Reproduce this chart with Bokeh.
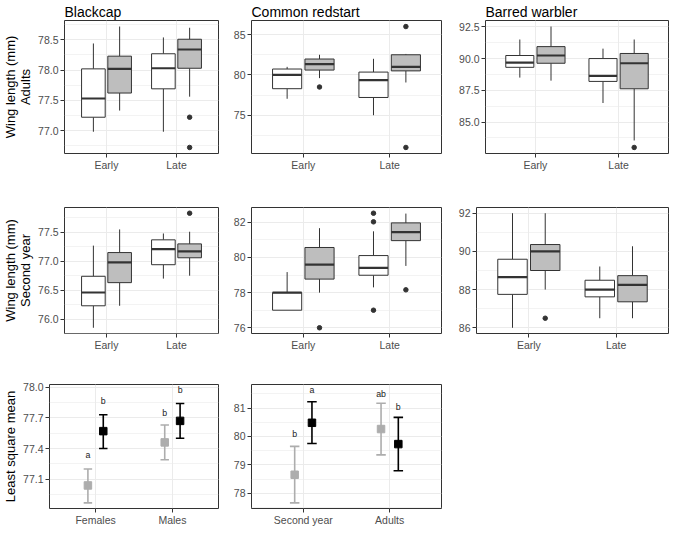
from bokeh.plotting import figure
from bokeh.models import FixedTicker, PrintfTickFormatter, Range1d, ColumnDataSource
from bokeh.layouts import column, row
from bokeh.embed import file_html
from bokeh.resources import INLINE
from bokeh.core.properties import value

FONT = "Liberation Sans"

# ---------------- data ----------------
periods = ["Early", "Late"]
# five-number summaries [lower whisker, Q1, median, Q3, upper whisker]
# order: Early-white, Early-grey, Late-white, Late-grey
blackcap_adults = [[76.98, 77.22, 77.53, 78.02, 78.44],
                   [77.33, 77.62, 78.02, 78.23, 78.72],
                   [76.98, 77.69, 78.03, 78.27, 78.54],
                   [77.56, 78.03, 78.34, 78.51, 78.70]]
blackcap_adults_out = [[], [], [], [77.22, 76.72]]

redstart_adults = [[77.04, 78.29, 80.00, 80.73, 81.00],
                   [79.60, 80.60, 81.33, 81.97, 82.50],
                   [75.00, 77.20, 79.36, 80.35, 82.00],
                   [79.06, 80.50, 81.00, 82.50, 82.60]]
redstart_adults_out = [[], [78.5], [], [86.0, 71.0]]

warbler_adults = [[88.50, 89.31, 89.68, 90.24, 91.50],
                  [88.26, 89.63, 90.24, 90.94, 92.52],
                  [86.50, 88.20, 88.63, 90.00, 90.78],
                  [83.55, 87.62, 89.63, 90.40, 91.50]]
warbler_adults_out = [[], [], [], [83.0]]

blackcap_second = [[75.85, 76.23, 76.46, 76.74, 77.27],
                   [76.23, 76.63, 76.98, 77.15, 77.55],
                   [76.70, 76.94, 77.21, 77.37, 77.48],
                   [76.75, 77.06, 77.17, 77.30, 77.51]]
blackcap_second_out = [[], [], [], [77.83]]

redstart_second = [[77.00, 77.00, 78.00, 78.00, 79.17],
                   [78.00, 78.77, 79.60, 80.57, 81.67],
                   [78.30, 78.99, 79.41, 80.11, 81.49],
                   [79.52, 80.96, 81.45, 81.97, 82.50]]
redstart_second_out = [[], [76.0], [82.52, 82.03, 77.0], [78.16]]

warbler_second = [[86.00, 87.75, 88.65, 89.59, 92.00],
                  [88.00, 89.00, 90.00, 90.36, 92.00],
                  [86.50, 87.62, 88.00, 88.49, 89.21],
                  [86.50, 87.36, 88.25, 88.73, 90.27]]
warbler_second_out = [[], [86.5], [], []]

# least square means
sex_cats = ["Females", "Males"]
sex_grey_mean = [77.04, 77.46]
sex_grey_lo = [76.87, 77.29]
sex_grey_hi = [77.20, 77.63]
sex_grey_lab = ["a", "b"]
sex_grey_lab_y = [77.34, 77.75]
sex_black_mean = [77.57, 77.67]
sex_black_lo = [77.40, 77.50]
sex_black_hi = [77.73, 77.84]
sex_black_lab = ["b", "b"]
sex_black_lab_y = [77.86, 77.97]

age_cats = ["Second year", "Adults"]
age_grey_mean = [78.65, 80.26]
age_grey_lo = [77.66, 79.35]
age_grey_hi = [79.65, 81.17]
age_grey_lab = ["b", "ab"]
age_grey_lab_y = [80.07, 81.50]
age_black_mean = [80.48, 79.73]
age_black_lo = [79.75, 78.79]
age_black_hi = [81.22, 80.67]
age_black_lab = ["a", "b"]
age_black_lab_y = [81.63, 81.04]

# tick values
ticks_bc_ad = [77.0, 77.5, 78.0, 78.5]
ticks_rs_ad = [75, 80, 85]
ticks_bw_ad = [85.0, 87.5, 90.0, 92.5]
ticks_bc_sy = [76.0, 76.5, 77.0, 77.5]
ticks_rs_sy = [76, 78, 80, 82]
ticks_bw_sy = [86, 88, 90, 92]
ticks_sex = [77.1, 77.4, 77.7, 78.0]
ticks_age = [78, 79, 80, 81]

# ---------------- styling ----------------
LINE = "#333333"
GRID = "#EBEBEB"
TICKTXT = "#4D4D4D"
BOX_FILLS = ["#FFFFFF", "#BEBEBE"]
DODGE_BOX = [-0.1875, 0.1875]
BOX_W = 0.3375
DODGE_PT = [-0.1, 0.1]
CAP = 0.055
PT_COLORS = ["#ADADAD", "#000000"]


def minors(t):
    step = t[1] - t[0]
    return [t[0] - step / 2] + [v + step / 2 for v in t]


def padded(vals):
    lo, hi = min(vals), max(vals)
    pad = 0.05 * (hi - lo)
    return Range1d(lo - pad, hi + pad)


def make_fig(width, height, lb, rb, tb, bb, yrange, yticks, fmt, cats,
             title=None, ylabel=None):
    kw = dict(width=width, height=height, min_border_left=lb, min_border_right=rb,
              min_border_top=tb, min_border_bottom=bb,
              x_range=Range1d(0.4, 2.6), y_range=yrange,
              output_backend="svg", toolbar_location=None)
    if title is not None:
        kw["title"] = title
    p = figure(**kw)
    p.background_fill_color = "white"
    p.border_fill_color = "white"
    p.outline_line_color = LINE
    p.outline_line_width = 1
    if title is not None:
        p.title.text_font = FONT
        p.title.text_font_size = "14px"
        p.title.text_font_style = "normal"
        p.title.text_color = "black"
        p.title.align = "left"
        p.title.offset = 0
        p.title.standoff = 2
    # axes
    p.xaxis.ticker = FixedTicker(ticks=[1, 2])
    p.xaxis.major_label_overrides = {1: cats[0], 2: cats[1]}
    p.yaxis.ticker = FixedTicker(ticks=yticks, minor_ticks=minors(yticks))
    p.yaxis.formatter = PrintfTickFormatter(format=fmt)
    for ax in (p.xaxis[0], p.yaxis[0]):
        ax.axis_line_color = None
        ax.major_tick_line_color = LINE
        ax.major_tick_out = 4
        ax.major_tick_in = 0
        ax.minor_tick_line_color = None
        ax.major_label_text_font = FONT
        ax.major_label_text_font_size = "10.5px"
        ax.major_label_text_color = TICKTXT
        ax.major_label_standoff = 2
    p.xaxis.major_label_standoff = 1
    if ylabel is not None:
        p.yaxis.axis_label = ylabel
        p.yaxis.axis_label_text_font = FONT
        p.yaxis.axis_label_text_font_size = "13px"
        p.yaxis.axis_label_text_font_style = "normal"
        p.yaxis.axis_label_text_color = "black"
        p.yaxis.axis_label_text_line_height = 1.0
        p.yaxis.axis_label_standoff = 2
    # grids
    p.xgrid.grid_line_color = GRID
    p.xgrid.grid_line_width = 1
    p.xgrid.minor_grid_line_color = None
    p.ygrid.grid_line_color = GRID
    p.ygrid.grid_line_width = 1
    p.ygrid.minor_grid_line_color = GRID
    p.ygrid.minor_grid_line_width = 0.6
    return p


def add_boxes(p, stats, outs):
    xs, lo, q1, med, q3, hi, fills = [], [], [], [], [], [], []
    ox, oy = [], []
    for i, s in enumerate(stats):
        x = 1 + i // 2 + DODGE_BOX[i % 2]
        xs.append(x)
        lo.append(s[0]); q1.append(s[1]); med.append(s[2]); q3.append(s[3]); hi.append(s[4])
        fills.append(BOX_FILLS[i % 2])
        for v in outs[i]:
            ox.append(x); oy.append(v)
    src = ColumnDataSource(dict(x=xs, lo=lo, q1=q1, med=med, q3=q3, hi=hi, fill=fills,
                                xl=[x - BOX_W / 2 for x in xs], xr=[x + BOX_W / 2 for x in xs]))
    p.segment(x0="x", y0="q3", x1="x", y1="hi", source=src, line_color=LINE, line_width=1)
    p.segment(x0="x", y0="lo", x1="x", y1="q1", source=src, line_color=LINE, line_width=1)
    p.vbar(x="x", width=BOX_W, bottom="q1", top="q3", source=src, fill_color="fill",
           line_color=LINE, line_width=1)
    p.segment(x0="xl", y0="med", x1="xr", y1="med", source=src, line_color=LINE, line_width=2.2)
    if ox:
        p.scatter(ox, oy, marker="circle", size=4.5, fill_color=LINE, line_color=LINE)


def add_means(p, series):
    for k, (mean, lo, hi, lab, laby) in enumerate(series):
        xs = [1 + i + DODGE_PT[k] for i in range(len(mean))]
        col = PT_COLORS[k]
        src = ColumnDataSource(dict(x=xs, m=mean, lo=lo, hi=hi, lab=lab, laby=laby,
                                    xl=[x - CAP for x in xs], xr=[x + CAP for x in xs]))
        p.segment(x0="x", y0="lo", x1="x", y1="hi", source=src, line_color=col, line_width=1.6)
        p.segment(x0="xl", y0="lo", x1="xr", y1="lo", source=src, line_color=col, line_width=1.6)
        p.segment(x0="xl", y0="hi", x1="xr", y1="hi", source=src, line_color=col, line_width=1.6)
        p.scatter(x="x", y="m", source=src, marker="square", size=7.5, fill_color=col, line_color=col)
        p.text(x="x", y="laby", text="lab", source=src, text_align="center",
               text_baseline="middle", text_font=value(FONT), text_font_size="8.8px",
               text_color="#1A1A1A")


def box_range(stats, outs):
    vals = [v for s in stats for v in s] + [v for o in outs for v in o]
    return padded(vals)


# ---------------- figures ----------------
# total 669 x 528 keeps the page inside the 685 x 536 window
H1, H2, H3 = 180, 176, 172
W1, W2, W3 = 224, 223, 222

f11 = make_fig(W1, H1, 54, 6, 18, 27, box_range(blackcap_adults, blackcap_adults_out),
               ticks_bc_ad, "%.1f", periods, title="Blackcap", ylabel="Wing length (mm)\nAdults")
add_boxes(f11, blackcap_adults, blackcap_adults_out)
f12 = make_fig(W2, H1, 27, 6, 18, 27, box_range(redstart_adults, redstart_adults_out),
               ticks_rs_ad, "%d", periods, title="Common redstart")
add_boxes(f12, redstart_adults, redstart_adults_out)
f13 = make_fig(W3, H1, 38, 1, 18, 27, box_range(warbler_adults, warbler_adults_out),
               ticks_bw_ad, "%.1f", periods, title="Barred warbler")
add_boxes(f13, warbler_adults, warbler_adults_out)

f21 = make_fig(W1, H2, 54, 6, 24, 23, box_range(blackcap_second, blackcap_second_out),
               ticks_bc_sy, "%.1f", periods, ylabel="Wing length (mm)\nSecond year")
add_boxes(f21, blackcap_second, blackcap_second_out)
f22 = make_fig(W2, H2, 27, 6, 24, 23, box_range(redstart_second, redstart_second_out),
               ticks_rs_sy, "%d", periods)
add_boxes(f22, redstart_second, redstart_second_out)
f23 = make_fig(W3, H2, 29, 1, 27, 23, box_range(warbler_second, warbler_second_out),
               ticks_bw_sy, "%d", periods)
add_boxes(f23, warbler_second, warbler_second_out)

sex_series = [(sex_grey_mean, sex_grey_lo, sex_grey_hi, sex_grey_lab, sex_grey_lab_y),
              (sex_black_mean, sex_black_lo, sex_black_hi, sex_black_lab, sex_black_lab_y)]
age_series = [(age_grey_mean, age_grey_lo, age_grey_hi, age_grey_lab, age_grey_lab_y),
              (age_black_mean, age_black_lo, age_black_hi, age_black_lab, age_black_lab_y)]
sex_vals = sex_grey_lo + sex_grey_hi + sex_grey_lab_y + sex_black_lo + sex_black_hi + sex_black_lab_y
age_vals = age_grey_lo + age_grey_hi + age_grey_lab_y + age_black_lo + age_black_hi + age_black_lab_y

f31 = make_fig(W1, H3, 41, 6, 28, 18, padded(sex_vals), ticks_sex, "%.1f", sex_cats,
               ylabel="Least square mean")
add_means(f31, sex_series)
f32 = make_fig(W2, H3, 27, 6, 28, 18, padded(age_vals), ticks_age, "%d", age_cats)
add_means(f32, age_series)

layout = column(row(f11, f12, f13, spacing=0), row(f21, f22, f23, spacing=0),
                row(f31, f32, spacing=0), spacing=0)

with open("out.html", "w") as fh:
    fh.write(file_html(layout, INLINE))
